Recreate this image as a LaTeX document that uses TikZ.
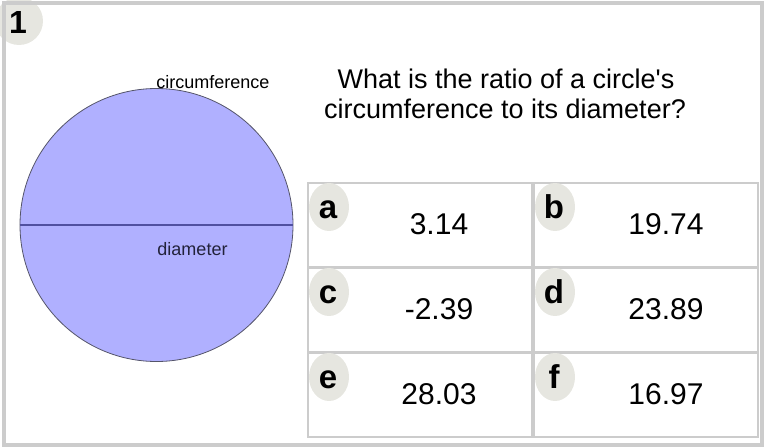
\documentclass[tikz,border=0pt]{standalone}
\usepackage{fontspec}
\setmainfont{Liberation Sans}[Ligatures=TeXOff]
\usetikzlibrary{shapes.geometric}
\definecolor{framegray}{HTML}{CCCCCC}
\definecolor{badgegray}{HTML}{E6E6E0}
\definecolor{discfill}{HTML}{B0B0FF}
\definecolor{discline}{HTML}{55556A}
\definecolor{diamline}{HTML}{5050A0}
\definecolor{diamtext}{HTML}{22223A}
\tikzset{
  cellbox/.style={draw=framegray, line width=2pt, minimum width=224pt, minimum height=84pt, inner sep=0pt},
  badge/.style={ellipse, fill=badgegray, minimum width=40pt, minimum height=48pt, inner sep=0pt},
  letter/.style={anchor=base, inner sep=0pt, font=\fontsize{33}{36}\selectfont\bfseries},
  value/.style={anchor=base, inner sep=0pt, font=\fontsize{30}{33}\selectfont},
  smalllabel/.style={anchor=base, inner sep=0pt, font=\fontsize{18}{20}\selectfont},
}
\begin{document}
\begin{tikzpicture}[x=1pt,y=-1pt]
\useasboundingbox (0,0) rectangle (768,447);
% question number badge
\node[circle, fill=badgegray, minimum size=48pt, inner sep=0pt] (qbadge) at (19,21) {};
\node[anchor=base, inner sep=0pt, font=\fontsize{32}{34}\selectfont\bfseries] (qnum) at (18,33) {1};
% outer frame
\node[draw=framegray, line width=4pt, minimum width=758pt, minimum height=441.5pt, inner sep=0pt] (frame) at (383,223.75) {};
% circle figure
\node[circle, draw=discline, line width=0.8pt, fill=discfill, minimum size=273pt, inner sep=0pt] (disc) at (156.5,225) {};
\draw[diamline, line width=1.5pt] (disc.west) -- (disc.east);
\node[smalllabel] (circlab) at (213,88) {circumference};
\node[smalllabel, text=diamtext] (diamlab) at (192.5,255) {diameter};
% question
\node[anchor=base, inner sep=0pt, font=\fontsize{27}{30}\selectfont] (q1) at (506,88) {What is the ratio of a circle's};
\node[anchor=base, inner sep=0pt, font=\fontsize{27}{30}\selectfont] (q2) at (505,118) {circumference to its diameter?};
% answer cells
\node[cellbox] (ca) at (420,225) {};
\node[cellbox] (cb) at (646,225) {};
\node[cellbox] (cc) at (420,310) {};
\node[cellbox] (cd) at (646,310) {};
\node[cellbox] (ce) at (420,395) {};
\node[cellbox] (cf) at (646,395) {};
% badges
\node[badge] (ba) at (329,207) {};
\node[badge] (bb) at (555,207) {};
\node[badge] (bc) at (329,292) {};
\node[badge] (bd) at (555,292) {};
\node[badge] (be) at (329,377) {};
\node[badge] (bf) at (555,377) {};
% letters
\node[letter] (la) at (328,218) {a};
\node[letter] (lb) at (554,218) {b};
\node[letter] (lc) at (328,303) {c};
\node[letter] (ld) at (554,303) {d};
\node[letter] (le) at (328,388) {e};
\node[letter] (lf) at (554,388) {f};
% values
\node[value] (va) at (439,234) {3.14};
\node[value] (vb) at (666,234) {19.74};
\node[value] (vc) at (439,319) {-2.39};
\node[value] (vd) at (666,319) {23.89};
\node[value] (ve) at (439,404) {28.03};
\node[value] (vf) at (666,404) {16.97};
\end{tikzpicture}
\end{document}
